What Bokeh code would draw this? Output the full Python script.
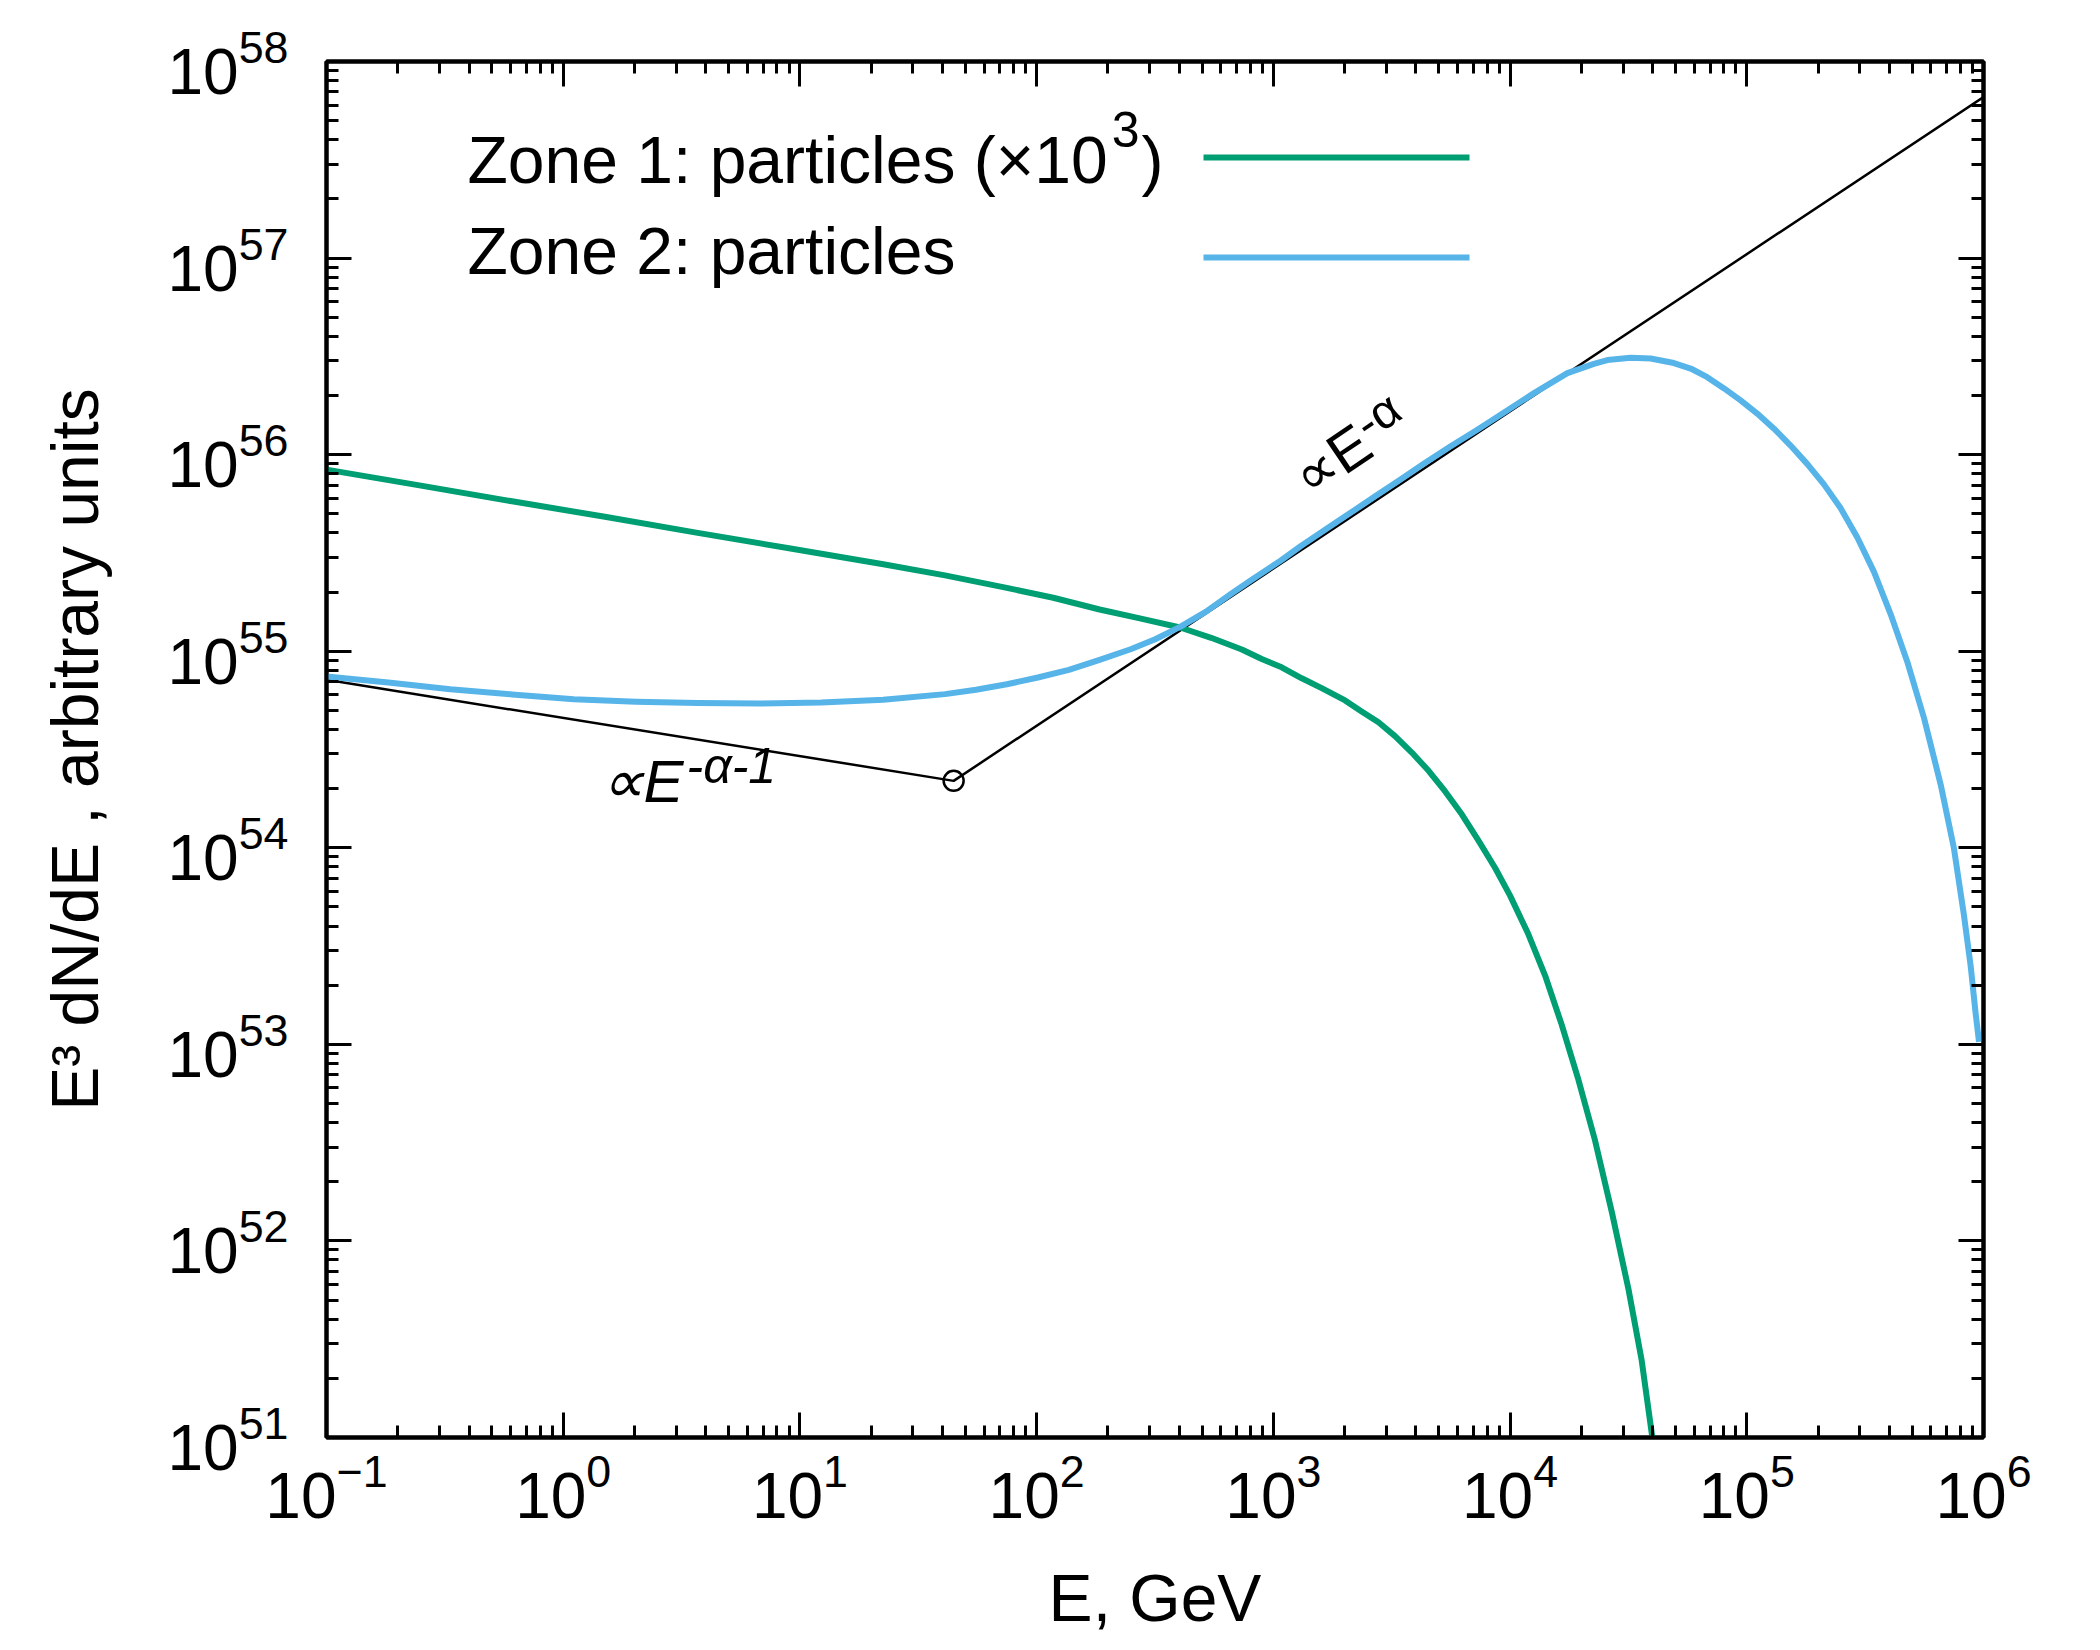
import math
from bokeh.plotting import figure
from bokeh.models import (LogAxis, FixedTicker, CustomJSTickFormatter, LogTickFormatter,
                          Label, Range1d)
from bokeh.embed import file_html
from bokeh.resources import INLINE

# ---------------- data ----------------
zone1_E = [1.00e-1, 2.47e-1, 6.08e-1, 1.50e0, 3.70e0, 9.12e0, 2.25e1, 4.10e1, 7.48e1,
           1.175e2, 1.845e2, 2.73e2, 4.036e2, 5.46e2, 7.36e2, 8.93e2, 1.084e3,
           1.318e3, 1.600e3, 2.009e3, 2.360e3, 2.780e3, 3.266e3, 3.846e3, 4.519e3,
           5.309e3, 6.252e3, 7.345e3, 8.650e3, 1.0e4, 1.194e4, 1.406e4, 1.652e4,
           1.945e4, 2.286e4, 2.692e4, 3.162e4, 3.597e4, 3.99e4, 4.27e4]
zone1_F = [8.39e55, 6.98e55, 5.79e55, 4.83e55, 4.00e55, 3.33e55, 2.77e55, 2.43e55, 2.10e55,
           1.87e55, 1.63e55, 1.47e55, 1.32e55, 1.17e55, 1.02e55, 9.12e54, 8.28e54,
           7.28e54, 6.49e54, 5.62e54, 4.94e54, 4.35e54, 3.70e54, 3.05e54, 2.47e54,
           1.94e54, 1.48e54, 1.09e54, 7.89e53, 5.71e53, 3.64e53, 2.24e53, 1.26e53,
           6.59e52, 3.24e52, 1.40e52, 5.70e51, 2.47e51, 1.00e51, 5.6e50]

zone2_E = [1.00e-1, 1.824e-1, 3.334e-1, 6.08e-1, 1.109e0, 2.028e0, 3.698e0, 6.745e0,
           1.230e1, 2.249e1, 4.102e1, 5.546e1, 7.482e1, 1.012e2, 1.368e2, 1.845e2,
           2.495e2, 3.169e2, 4.055e2, 5.176e2, 6.592e2, 8.017e2, 1.072e3, 1.303e3,
           1.660e3, 2.118e3, 2.692e3, 3.443e3, 4.365e3, 5.610e3, 7.161e3, 9.120e3,
           1.262e4, 1.746e4, 2.259e4, 2.576e4, 3.228e4, 3.926e4, 4.920e4, 5.794e4,
           6.808e4, 8.017e4, 9.419e4, 1.107e5, 1.303e5, 1.531e5, 1.803e5, 2.118e5,
           2.489e5, 2.931e5, 3.443e5, 4.055e5, 4.764e5, 5.610e5, 6.592e5, 7.499e5,
           8.260e5, 8.831e5, 9.268e5, 9.572e5]
zone2_F = [7.43e54, 6.93e54, 6.41e54, 6.03e54, 5.70e54, 5.53e54, 5.445e54, 5.42e54,
           5.48e54, 5.66e54, 6.05e54, 6.37e54, 6.79e54, 7.35e54, 8.04e54, 9.04e54,
           1.023e55, 1.151e55, 1.334e55, 1.585e55, 1.950e55, 2.291e55, 2.884e55, 3.420e55,
           4.159e55, 5.058e55, 6.138e55, 7.464e55, 9.057e55, 1.102e56, 1.324e56, 1.596e56,
           2.056e56, 2.600e56, 2.897e56, 3.027e56, 3.112e56, 3.083e56, 2.924e56, 2.742e56,
           2.477e56, 2.173e56, 1.888e56, 1.618e56, 1.355e56, 1.112e56, 8.95e55, 7.06e55,
           5.35e55, 3.79e55, 2.54e55, 1.54e55, 8.85e54, 4.56e54, 2.10e54, 9.95e53,
           4.58e53, 2.49e53, 1.43e53, 1.03e53]

break_E = [1.0e-1, 4.46e1, 1.0e6]
break_F = [7.15e54, 2.19e54, 6.6e57]

x_decades = [-1, 0, 1, 2, 3, 4, 5, 6]
y_decades = [51, 52, 53, 54, 55, 56, 57, 58]
legend_labels = ["Zone 1: particles (\u00d710", "Zone 2: particles"]
legend_sup = "3"
series_colors = ["#009E73", "#56B4E9"]
x_title = "E, GeV"
y_title = "E\u00b3 dN/dE , arbitrary units"

# ---------------- layout ----------------
FW, FH = 2092, 1642
FL, FR, FT, FB = 326, 1983, 61, 1437   # frame in page pixels
FONT = "Liberation Sans"

def P(ox, oy):
    lx = x_decades[0] + (x_decades[-1] - x_decades[0]) * (ox - FL) / (FR - FL)
    ly = y_decades[-1] - (y_decades[-1] - y_decades[0]) * (oy - FT) / (FB - FT)
    return 10 ** lx, 10 ** ly

AW = {' ': 278, '(': 333, ')': 333, ',': 278, '-': 333, '/': 278, ':': 278,
      'E': 667, 'G': 778, 'N': 722, 'V': 667, 'Z': 611, 'a': 556, 'b': 556, 'c': 500,
      'd': 556, 'e': 556, 'i': 222, 'l': 222, 'n': 556, 'o': 556, 'p': 556, 'r': 333,
      's': 500, 't': 278, 'u': 556, 'y': 500, '\u00d7': 584}
def tw(s, size):
    return sum(AW.get(c, 556) for c in s) / 1000.0 * size

p = figure(width=FW, height=FH, x_axis_type="log", y_axis_type="log",
           x_range=Range1d(10.0 ** x_decades[0], 10.0 ** x_decades[-1]),
           y_range=Range1d(10.0 ** y_decades[0], 10.0 ** y_decades[-1]),
           output_backend="svg", toolbar_location=None,
           min_border_left=FL, min_border_right=FW - FR,
           min_border_top=FT, min_border_bottom=FH - FB)
p.background_fill_color = "white"
p.border_fill_color = "white"
p.xgrid.visible = False
p.ygrid.visible = False
p.outline_line_color = "black"
p.outline_line_width = 4

xt = FixedTicker(ticks=[10.0 ** k for k in x_decades],
                 minor_ticks=[m * 10.0 ** k for k in x_decades[:-1] for m in range(2, 10)])
yt = FixedTicker(ticks=[10.0 ** k for k in y_decades],
                 minor_ticks=[m * 10.0 ** k for k in y_decades[:-1] for m in range(2, 10)])

xmain = p.below[0]
ymain = p.left[0]
xtop = LogAxis()
yright = LogAxis()
p.add_layout(yright, "right")
p.add_layout(xtop, "above")
for ax in (xmain, xtop):
    ax.ticker = xt
for ax in (ymain, yright):
    ax.ticker = yt
for ax in (xmain, xtop, ymain, yright):
    ax.axis_line_color = "black"
    ax.axis_line_width = 4
    ax.major_tick_in = 25
    ax.major_tick_out = 0
    ax.minor_tick_in = 12
    ax.minor_tick_out = 0
    ax.major_tick_line_width = 3
    ax.minor_tick_line_width = 3
    ax.major_tick_line_color = "black"
    ax.minor_tick_line_color = "black"
for ax in (xtop, yright):
    ax.formatter = CustomJSTickFormatter(code="return ''")
    ax.major_label_text_font_size = "0px"
    ax.major_label_standoff = 0
for ax in (xmain, ymain):
    ax.formatter = LogTickFormatter()
    ax.major_label_text_font = FONT
    ax.major_label_text_font_size = "64px"
    ax.major_label_text_color = "black"
    ax.axis_label_text_font = FONT
    ax.axis_label_text_font_style = "normal"
    ax.axis_label_text_color = "black"
    ax.axis_label_text_font_size = "66px"
xmain.major_label_standoff = 15
ymain.major_label_standoff = 38
xmain.axis_label = x_title
ymain.axis_label = y_title
xmain.axis_label_standoff = 40
ymain.axis_label_standoff = 52

# curves
p.line(break_E, break_F, line_color="black", line_width=2.5)
p.scatter([break_E[1]], [break_F[1]], marker="circle", size=20, fill_color=None,
          line_color="black", line_width=2.5)
p.line(zone1_E, zone1_F, line_color=series_colors[0], line_width=6, line_join="round")
p.line(zone2_E, zone2_F, line_color=series_colors[1], line_width=6, line_join="round")

BASEFIX = 0.42  # empirical shift: rendered baseline sits lower than the anchor

def lab(ox, oy, text, size, align="left", angle=0.0, style="normal", font=FONT):
    d = BASEFIX * size
    ox2 = ox - d * math.sin(angle)
    oy2 = oy - d * math.cos(angle)
    x, y = P(ox2, oy2)
    p.add_layout(Label(x=x, y=y, text=text, text_font_size=f"{size}px", text_align=align,
                       text_baseline="alphabetic", angle=angle, text_font_style=style,
                       text_font=font, text_color="black"))

# legend
LS = 66
w1 = tw(legend_labels[0], LS)
lab(467, 187, legend_labels[0], LS)
lab(467 + w1 + 4, 150, legend_sup, 50)
lab(467 + w1 + 4 + tw("3", 50) + 2, 187, ")", LS)
lab(467, 278, legend_labels[1], LS)
for i, oy in enumerate([157, 257]):
    xa, ya = P(1203, oy)
    xb, _ = P(1469, oy)
    p.line([xa, xb], [ya, ya], line_color=series_colors[i], line_width=6)

# annotations
lab(600, 806, "\u221dE", 60, style="italic")
lab(686, 786, "-\u03b1-1", 50, style="italic")
ang = math.radians(34)
lab(1312, 502, "\u221dE", 58, angle=ang)
lab(1370, 444, "-\u03b1", 48, angle=ang)

open("out.html", "w").write(file_html(p, INLINE))
